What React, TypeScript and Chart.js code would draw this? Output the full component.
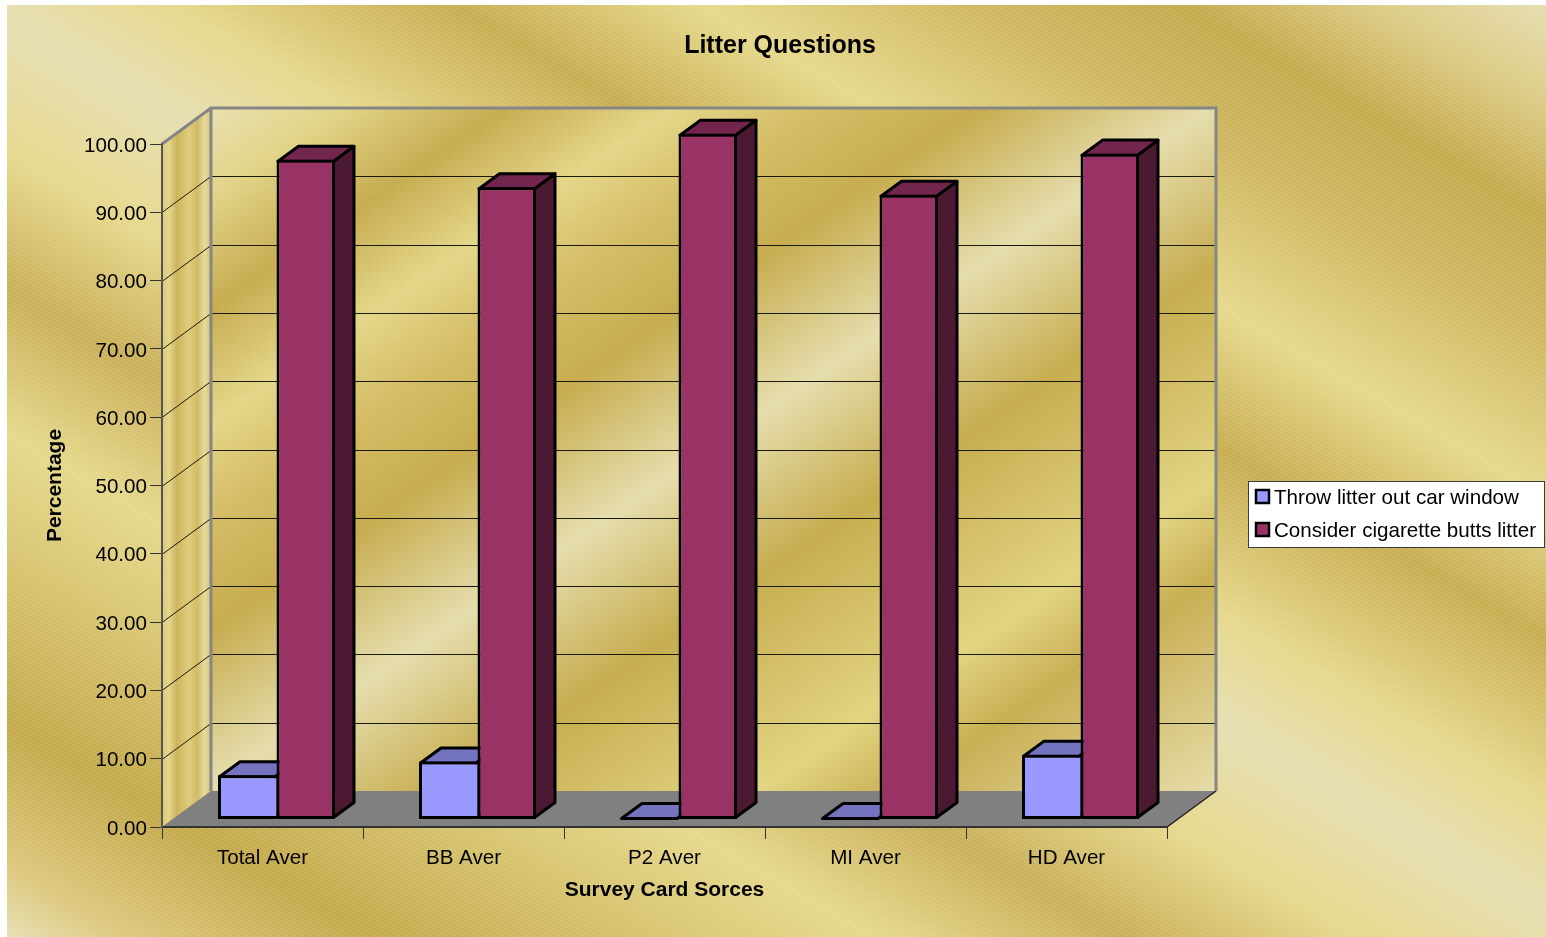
import React, { useEffect, useRef } from "react";
import { Chart, registerables } from "chart.js";

Chart.register(...registerables);

const chartTitle = "Litter Questions";
const xAxisTitle = "Survey Card Sorces";
const yAxisTitle = "Percentage";
const categories = ["Total Aver", "BB Aver", "P2 Aver", "MI Aver", "HD Aver"];
const throwLitter = [6.45, 8.45, 0, 0, 9.45];
const cigaretteButts = [96.2, 92.2, 100, 91.1, 97.1];

const FONT = "'Liberation Sans', Arial, sans-serif";
const WALL_DX = 49;
const WALL_DY = -36;
const BAR_DX = 14;
const BAR_BASE_Y = 819.5;
const BAR_SCALE_Y = 1.004;
const BAR_DEPTH_X = 20.5;
const BAR_DEPTH_Y = -15;

type Stop = [number, string];
// Stops run across the diagonal bands of the gold surface (t = y - 0.58 x).
const pageBands: Stop[] = [
  [-897, "#e6dfb2"],
  [-790, "#dccb85"],
  [-682, "#c5ab4e"],
  [-560, "#cfb862"],
  [-400, "#e6d98c"],
  [-258, "#c8ae52"],
  [-95, "#e6d88c"],
  [15, "#e6dfb2"],
  [150, "#e6d88c"],
  [285, "#c9b05a"],
  [430, "#e6d98c"],
  [720, "#c4aa4c"],
  [860, "#dcc77c"],
  [930, "#e6dfb2"],
];
// The back wall carries the same texture, tilted the other way.
const wallBands: [number, string][] = [
  [0, "#e8e0b0"],
  [200, "#e2d488"],
  [460, "#c6ac50"],
  [720, "#e4d688"],
  [950, "#d4bc64"],
  [1200, "#c6ac4e"],
  [1560, "#e5ddac"],
  [1930, "#c6ac4e"],
  [2420, "#e2d480"],
  [2640, "#c8ae52"],
  [3136, "#e6dca8"],
];
const sideWallStops: Stop[] = [
  [0, "#dcc878"],
  [0.14, "#e4d68e"],
  [0.3, "#cdb55e"],
  [0.55, "#dfcc7c"],
  [0.72, "#d2bb64"],
  [0.87, "#e6daa0"],
  [1, "#d8c274"],
];

const faceColors = [
  { front: "#9999ff", top: "#7373bf", side: "#4d4d80" },
  { front: "#993366", top: "#73264d", side: "#4c1933" },
];

function pageGradient(ctx: CanvasRenderingContext2D) {
  const t0 = pageBands[0][0];
  const t1 = pageBands[pageBands.length - 1][0];
  const slope = 0.58;
  const k = (t1 - t0) / (1 + slope * slope);
  const sx = 773;
  const sy = t0 + slope * sx;
  const g = ctx.createLinearGradient(sx, sy, sx - slope * k, sy + k);
  pageBands.forEach(([t, c]) => g.addColorStop((t - t0) / (t1 - t0), c));
  return g;
}

function wallGradient(ctx: CanvasRenderingContext2D, x: number, y: number, w: number, h: number) {
  // u grows from the wall's top-left corner to its bottom-right corner.
  const ax = 1568 / w;
  const ay = 1568 / h;
  const umax = 3136;
  const k = umax / (ax * ax + ay * ay);
  const g = ctx.createLinearGradient(x, y, x + ax * k, y + ay * k);
  wallBands.forEach(([u, c]) => g.addColorStop(u / umax, c));
  return g;
}

function hatch(ctx: CanvasRenderingContext2D, alpha: number) {
  const tile = document.createElement("canvas");
  tile.width = 8;
  tile.height = 4;
  const c = tile.getContext("2d")!;
  c.strokeStyle = `rgba(255,255,255,${alpha})`;
  c.lineWidth = 1;
  c.beginPath();
  c.moveTo(-2, -1);
  c.lineTo(10, 5);
  c.stroke();
  return ctx.createPattern(tile, "repeat")!;
}

function poly(ctx: CanvasRenderingContext2D, pts: number[][]) {
  ctx.beginPath();
  pts.forEach(([x, y], i) => (i ? ctx.lineTo(x, y) : ctx.moveTo(x, y)));
  ctx.closePath();
}

const scenePlugin = {
  id: "scene3d",
  afterLayout(chart: any) {
    // The title is centred over the painted surface, not the plot area.
    chart.titleBlock.left = 14;
    chart.titleBlock.right = chart.width;
  },
  beforeDraw(chart: any) {
    const { ctx, scales } = chart;
    const { x: xs, y: ys } = scales;
    const L = xs.left;
    const R = xs.right;
    const B = ys.bottom;
    const T = ys.top;
    const dx = WALL_DX;
    const dy = WALL_DY;

    ctx.save();
    ctx.fillStyle = "#ffffff";
    ctx.fillRect(0, 0, chart.width, chart.height);
    ctx.fillStyle = pageGradient(ctx);
    ctx.fillRect(7, 5, chart.width - 7, chart.height - 5);
    ctx.fillStyle = hatch(ctx, 0.12);
    ctx.fillRect(7, 5, chart.width - 7, chart.height - 5);

    // Back wall
    ctx.fillStyle = wallGradient(ctx, L + dx, T + dy, R - L, B - T);
    ctx.fillRect(L + dx, T + dy, R - L, B - T);
    ctx.fillStyle = hatch(ctx, 0.05);
    ctx.fillRect(L + dx, T + dy, R - L, B - T);

    // Side wall
    const side = ctx.createLinearGradient(L, 0, L + dx, 0);
    sideWallStops.forEach(([t, c]) => side.addColorStop(t, c));
    ctx.fillStyle = side;
    poly(ctx, [[L, T], [L + dx, T + dy], [L + dx, B + dy], [L, B]]);
    ctx.fill();

    // Floor
    ctx.fillStyle = "#808080";
    poly(ctx, [[L, B], [L + dx, B + dy], [R + dx, B + dy], [R, B]]);
    ctx.fill();
    ctx.strokeStyle = "#222";
    ctx.lineWidth = 1.5;
    ctx.beginPath();
    ctx.moveTo(R, B);
    ctx.lineTo(R + dx, B + dy);
    ctx.stroke();

    // Gridlines wrap from the side wall around the back wall
    ctx.strokeStyle = "#1a1a0a";
    ctx.lineWidth = 1;
    ys.ticks.forEach((t: any) => {
      if (t.value === 0 || t.value === 100) return;
      const y = Math.round(ys.getPixelForValue(t.value)) + 0.5;
      ctx.beginPath();
      ctx.moveTo(L, y);
      ctx.lineTo(L + dx, y + dy);
      ctx.lineTo(R + dx, y + dy);
      ctx.stroke();
    });

    // Wall outlines
    ctx.strokeStyle = "#868686";
    ctx.lineWidth = 3;
    ctx.beginPath();
    ctx.moveTo(L, T);
    ctx.lineTo(L + dx, T + dy);
    ctx.lineTo(R + dx, T + dy);
    ctx.lineTo(R + dx, B + dy);
    ctx.moveTo(L + dx, T + dy);
    ctx.lineTo(L + dx, B + dy);
    ctx.stroke();
    ctx.restore();
  },
  beforeDatasetsDraw(chart: any) {
    const { ctx, scales } = chart;
    const zero = scales.y.bottom;
    // Left series first so that the right one overlaps its top and side faces.
    chart.data.datasets.forEach((_: any, i: number) => {
      const meta = chart.getDatasetMeta(i);
      const colors = faceColors[i];
      ctx.save();
      ctx.translate(BAR_DX, BAR_BASE_Y - zero * BAR_SCALE_Y);
      ctx.scale(1, BAR_SCALE_Y);
      meta.data.forEach((el: any) => {
        const l = el.x - el.width / 2 + 1.5;
        const r = el.x + el.width / 2 - 1.5;
        const t = Math.min(el.y + 1.5, el.base - 1);
        const b = el.base - 1.5;
        ctx.strokeStyle = "#000";
        ctx.lineWidth = 3;
        ctx.lineJoin = "round";
        ctx.fillStyle = colors.side;
        poly(ctx, [[r, t], [r + BAR_DEPTH_X, t + BAR_DEPTH_Y], [r + BAR_DEPTH_X, b + BAR_DEPTH_Y], [r, b]]);
        ctx.fill();
        ctx.stroke();
        ctx.fillStyle = colors.top;
        poly(ctx, [[l, t], [l + BAR_DEPTH_X, t + BAR_DEPTH_Y], [r + BAR_DEPTH_X, t + BAR_DEPTH_Y], [r, t]]);
        ctx.fill();
        ctx.stroke();
      });
      meta.controller.draw();
      ctx.restore();
    });
    return false;
  },
  afterDraw(chart: any) {
    const { ctx } = chart;
    ctx.save();
    ctx.fillStyle = "#ffffff";
    ctx.strokeStyle = "#3c3c3c";
    ctx.lineWidth = 1;
    ctx.fillRect(1248, 481, 297, 66);
    ctx.strokeRect(1248.5, 481.5, 296, 66);
    ctx.font = `20.6px ${FONT}`;
    ctx.textBaseline = "middle";
    chart.data.datasets.forEach((d: any, i: number) => {
      const y = 497 + i * 33;
      ctx.fillStyle = d.backgroundColor;
      ctx.fillRect(1256, y - 7, 13, 13);
      ctx.strokeStyle = "#000";
      ctx.lineWidth = 2.5;
      ctx.strokeRect(1256, y - 7, 13, 13);
      ctx.fillStyle = "#000";
      ctx.fillText(d.label, 1274, y + 1);
    });
    ctx.restore();
  },
};

export default function App() {
  const ref = useRef<HTMLCanvasElement>(null);
  useEffect(() => {
    const chart = new Chart(ref.current!, {
      type: "bar",
      data: {
        labels: categories,
        datasets: [
          {
            label: "Throw litter out car window",
            data: throwLitter,
            backgroundColor: faceColors[0].front,
            borderColor: "#000",
            borderWidth: { top: 3, left: 3, bottom: 3, right: 0 },
            borderSkipped: false,
          },
          {
            label: "Consider cigarette butts litter",
            data: cigaretteButts,
            backgroundColor: faceColors[1].front,
            borderColor: "#000",
            borderWidth: 3,
            borderSkipped: false,
          },
        ],
      },
      options: {
        animation: false,
        responsive: false,
        events: [],
        layout: { autoPadding: false, padding: { left: 0, top: 0, right: 379, bottom: 0 } },
        datasets: { bar: { categoryPercentage: 0.582, barPercentage: 1 } },
        plugins: {
          legend: { display: false },
          tooltip: { enabled: false },
          title: {
            display: true,
            text: chartTitle,
            color: "#000",
            font: { family: FONT, size: 25, weight: "bold", lineHeight: 1.2 },
            padding: { top: 31, bottom: 83 },
          },
        },
        scales: {
          x: {
            afterFit(s: any) { s.height = 110; },
            grid: { drawOnChartArea: false, drawTicks: true, tickLength: 12, color: "#333", tickWidth: 1 },
            border: { color: "#333", width: 2 },
            ticks: { color: "#000", font: { family: FONT, size: 20.6 }, padding: 7, maxRotation: 0 },
            title: {
              display: true,
              text: xAxisTitle,
              color: "#000",
              font: { family: FONT, size: 21, weight: "bold", lineHeight: 1.2 },
              padding: { top: 0, bottom: 34 },
            },
          },
          y: {
            min: 0,
            max: 100,
            afterFit(s: any) { s.width = 162; },
            grid: { drawOnChartArea: false, drawTicks: true, tickLength: 12, color: "#333", tickWidth: 1 },
            border: { color: "#555", width: 2 },
            ticks: {
              stepSize: 10,
              color: "#000",
              font: { family: FONT, size: 20.6 },
              padding: 3,
              labelOffset: 2,
              callback: (v: any) => Number(v).toFixed(2),
            },
            title: {
              display: true,
              text: yAxisTitle,
              color: "#000",
              font: { family: FONT, size: 21, weight: "bold", lineHeight: 1.2 },
              padding: { top: 43, bottom: 0 },
            },
          },
        },
      },
      plugins: [scenePlugin],
    } as any);
    return () => chart.destroy();
  }, []);
  return (
    <div style={{ position: "fixed", left: 0, top: 0, width: 1546, height: 937 }}>
      <canvas ref={ref} width={1546} height={937} style={{ display: "block" }} />
    </div>
  );
}
